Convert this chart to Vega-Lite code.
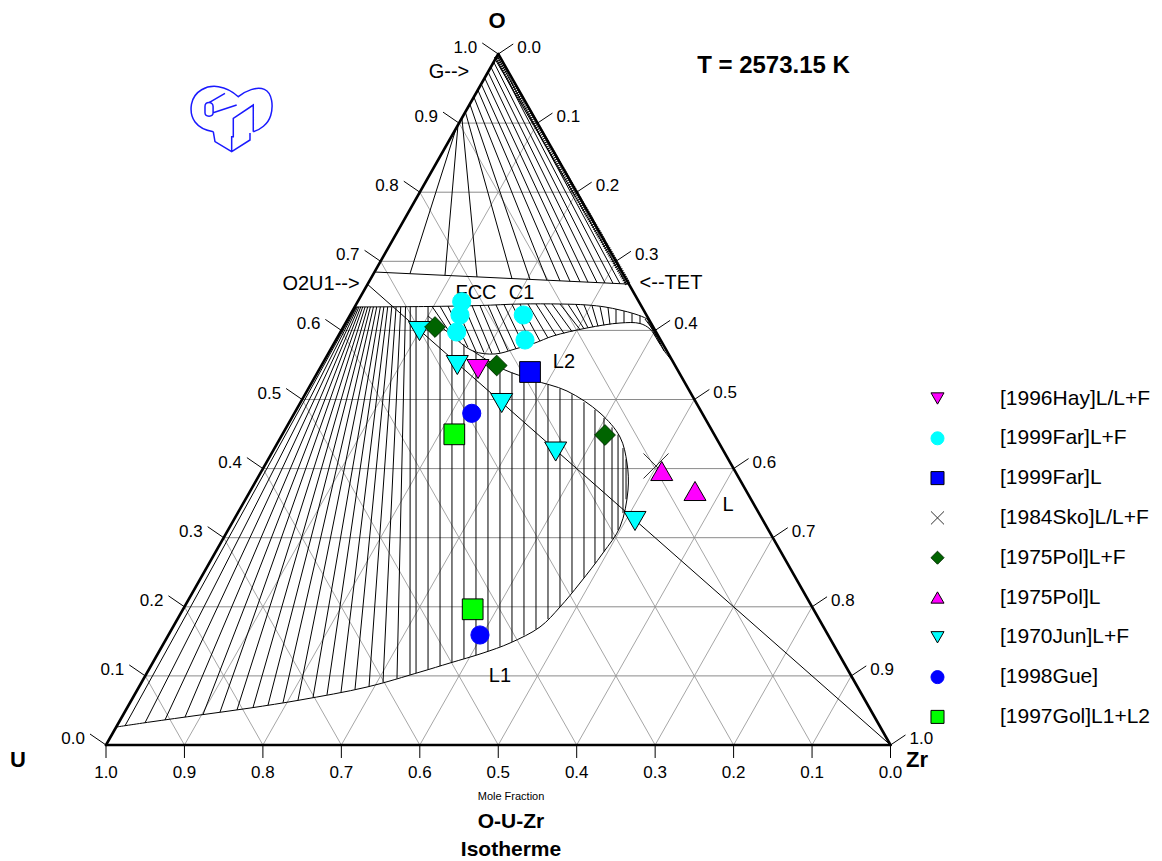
{
  "$schema": "https://vega.github.io/schema/vega-lite/v6.json",
  "width": 1162,
  "height": 861,
  "autosize": {"type": "none"},
  "padding": 0,
  "background": "#ffffff",
  "config": {
    "view": {"stroke": null},
    "text": {"font": "Liberation Sans", "color": "#000000"},
    "legend": {"orient": "none", "legendX": 927, "legendY": 388, "padding": 0, "symbolSize": 170, "symbolStrokeWidth": 1, "labelFont": "Liberation Sans", "labelFontSize": 21, "labelColor": "#000000", "labelOffset": 52, "rowPadding": 17.8, "labelLimit": 300}
  },
  "datasets": {
    "gridH": [
      {"x": 0.05, "o": 0.1, "x2": 0.95, "o2": 0.1},
      {"x": 0.1, "o": 0.2, "x2": 0.9, "o2": 0.2},
      {"x": 0.15, "o": 0.3, "x2": 0.85, "o2": 0.3},
      {"x": 0.2, "o": 0.4, "x2": 0.8, "o2": 0.4},
      {"x": 0.25, "o": 0.5, "x2": 0.75, "o2": 0.5},
      {"x": 0.3, "o": 0.6, "x2": 0.7, "o2": 0.6},
      {"x": 0.35, "o": 0.7, "x2": 0.65, "o2": 0.7},
      {"x": 0.4, "o": 0.8, "x2": 0.6, "o2": 0.8},
      {"x": 0.45, "o": 0.9, "x2": 0.55, "o2": 0.9}
    ],
    "gridD": [
      {"x": 0.1, "o": 0, "x2": 0.55, "o2": 0.9},
      {"x": 0.2, "o": 0, "x2": 0.6, "o2": 0.8},
      {"x": 0.3, "o": 0, "x2": 0.65, "o2": 0.7},
      {"x": 0.4, "o": 0, "x2": 0.7, "o2": 0.6},
      {"x": 0.5, "o": 0, "x2": 0.75, "o2": 0.5},
      {"x": 0.6, "o": 0, "x2": 0.8, "o2": 0.4},
      {"x": 0.7, "o": 0, "x2": 0.85, "o2": 0.3},
      {"x": 0.8, "o": 0, "x2": 0.9, "o2": 0.2},
      {"x": 0.9, "o": 0, "x2": 0.95, "o2": 0.1},
      {"x": 0.1, "o": 0, "x2": 0.05, "o2": 0.1},
      {"x": 0.2, "o": 0, "x2": 0.1, "o2": 0.2},
      {"x": 0.3, "o": 0, "x2": 0.15, "o2": 0.3},
      {"x": 0.4, "o": 0, "x2": 0.2, "o2": 0.4},
      {"x": 0.5, "o": 0, "x2": 0.25, "o2": 0.5},
      {"x": 0.6, "o": 0, "x2": 0.3, "o2": 0.6},
      {"x": 0.7, "o": 0, "x2": 0.35, "o2": 0.7},
      {"x": 0.8, "o": 0, "x2": 0.4, "o2": 0.8},
      {"x": 0.9, "o": 0, "x2": 0.45, "o2": 0.9}
    ],
    "frame": [
      {"x": 0, "o": 0, "x2": 1, "o2": 0},
      {"x": 1, "o": 0, "x2": 0.5, "o2": 1},
      {"x": 0.5, "o": 1, "x2": 0, "o2": 0}
    ],
    "ticksL": [
      {"x": 0, "o": 0, "x2": -0.0204, "o2": 0.0159, "label": "0.0"},
      {"x": 0.05, "o": 0.1, "x2": 0.0296, "o2": 0.1159, "label": "0.1"},
      {"x": 0.1, "o": 0.2, "x2": 0.0796, "o2": 0.2159, "label": "0.2"},
      {"x": 0.15, "o": 0.3, "x2": 0.1296, "o2": 0.3159, "label": "0.3"},
      {"x": 0.2, "o": 0.4, "x2": 0.1796, "o2": 0.4159, "label": "0.4"},
      {"x": 0.25, "o": 0.5, "x2": 0.2296, "o2": 0.5159, "label": "0.5"},
      {"x": 0.3, "o": 0.6, "x2": 0.2796, "o2": 0.6159, "label": "0.6"},
      {"x": 0.35, "o": 0.7, "x2": 0.3296, "o2": 0.7159, "label": "0.7"},
      {"x": 0.4, "o": 0.8, "x2": 0.3796, "o2": 0.8159, "label": "0.8"},
      {"x": 0.45, "o": 0.9, "x2": 0.4296, "o2": 0.9159, "label": "0.9"},
      {"x": 0.5, "o": 1, "x2": 0.4796, "o2": 1.0159, "label": "1.0"}
    ],
    "ticksR": [
      {"x": 0.5, "o": 1, "x2": 0.5191, "o2": 1.0145, "label": "0.0"},
      {"x": 0.55, "o": 0.9, "x2": 0.5691, "o2": 0.9145, "label": "0.1"},
      {"x": 0.6, "o": 0.8, "x2": 0.6191, "o2": 0.8145, "label": "0.2"},
      {"x": 0.65, "o": 0.7, "x2": 0.6691, "o2": 0.7145, "label": "0.3"},
      {"x": 0.7, "o": 0.6, "x2": 0.7191, "o2": 0.6145, "label": "0.4"},
      {"x": 0.75, "o": 0.5, "x2": 0.7691, "o2": 0.5145, "label": "0.5"},
      {"x": 0.8, "o": 0.4, "x2": 0.8191, "o2": 0.4145, "label": "0.6"},
      {"x": 0.85, "o": 0.3, "x2": 0.8691, "o2": 0.3145, "label": "0.7"},
      {"x": 0.9, "o": 0.2, "x2": 0.9191, "o2": 0.2145, "label": "0.8"},
      {"x": 0.95, "o": 0.1, "x2": 0.9691, "o2": 0.1145, "label": "0.9"},
      {"x": 1, "o": 0, "x2": 1.0191, "o2": 0.0145, "label": "1.0"}
    ],
    "ticksB": [
      {"x": 0, "o": 0, "x2": 0, "o2": -0.0188, "label": "1.0"},
      {"x": 0.1, "o": 0, "x2": 0.1, "o2": -0.0188, "label": "0.9"},
      {"x": 0.2, "o": 0, "x2": 0.2, "o2": -0.0188, "label": "0.8"},
      {"x": 0.3, "o": 0, "x2": 0.3, "o2": -0.0188, "label": "0.7"},
      {"x": 0.4, "o": 0, "x2": 0.4, "o2": -0.0188, "label": "0.6"},
      {"x": 0.5, "o": 0, "x2": 0.5, "o2": -0.0188, "label": "0.5"},
      {"x": 0.6, "o": 0, "x2": 0.6, "o2": -0.0188, "label": "0.4"},
      {"x": 0.7, "o": 0, "x2": 0.7, "o2": -0.0188, "label": "0.3"},
      {"x": 0.8, "o": 0, "x2": 0.8, "o2": -0.0188, "label": "0.2"},
      {"x": 0.9, "o": 0, "x2": 0.9, "o2": -0.0188, "label": "0.1"},
      {"x": 1, "o": 0, "x2": 1, "o2": -0.0188, "label": "0.0"}
    ],
    "segments": [
      {"x": 0.3423, "o": 0.6845, "x2": 0.6665, "o2": 0.667},
      {"x": 0.3333, "o": 0.6667, "x2": 1, "o2": 0},
      {"x": 0.4958, "o": 0.993, "x2": 0.6632, "o2": 0.6675}
    ],
    "band": [
      {"x": 0.4978, "o": 0.997, "x2": 0.665, "o2": 0.6675}
    ],
    "emblem": [
      {"x": 0.1606, "o": 0.9045}
    ],
    "ties": [
      {"set": "G+FCC", "x": 0.4465, "o": 0.8929, "x2": 0.3875, "o2": 0.6821},
      {"set": "G+FCC", "x": 0.4487, "o": 0.8973, "x2": 0.4321, "o2": 0.6797},
      {"set": "G+FCC", "x": 0.4537, "o": 0.9074, "x2": 0.4729, "o2": 0.6774},
      {"set": "G+FCC", "x": 0.4581, "o": 0.9161, "x2": 0.5175, "o2": 0.675},
      {"set": "G+FCC", "x": 0.4638, "o": 0.9276, "x2": 0.5405, "o2": 0.6738},
      {"set": "G+FCC", "x": 0.4689, "o": 0.9378, "x2": 0.5621, "o2": 0.6726},
      {"set": "G+FCC", "x": 0.474, "o": 0.9479, "x2": 0.5787, "o2": 0.6717},
      {"set": "G+FCC", "x": 0.4783, "o": 0.9566, "x2": 0.5915, "o2": 0.671},
      {"set": "G+FCC", "x": 0.4827, "o": 0.9653, "x2": 0.6042, "o2": 0.6704},
      {"set": "G+FCC", "x": 0.487, "o": 0.974, "x2": 0.6144, "o2": 0.6698},
      {"set": "G+FCC", "x": 0.4906, "o": 0.9812, "x2": 0.6259, "o2": 0.6692},
      {"set": "G+FCC", "x": 0.4942, "o": 0.9884, "x2": 0.6361, "o2": 0.6686},
      {"set": "G+FCC", "x": 0.4971, "o": 0.9942, "x2": 0.6463, "o2": 0.6681},
      {"set": "G+FCC", "x": 0.4986, "o": 0.9971, "x2": 0.6552, "o2": 0.6676},
      {"set": "F+L1", "x": 0.3187, "o": 0.634, "x2": 0.0242, "o2": 0.0278},
      {"set": "F+L1", "x": 0.3193, "o": 0.634, "x2": 0.0497, "o2": 0.0321},
      {"set": "F+L1", "x": 0.3206, "o": 0.634, "x2": 0.0752, "o2": 0.0363},
      {"set": "F+L1", "x": 0.3224, "o": 0.634, "x2": 0.1007, "o2": 0.0404},
      {"set": "F+L1", "x": 0.3247, "o": 0.634, "x2": 0.1236, "o2": 0.044},
      {"set": "F+L1", "x": 0.3272, "o": 0.634, "x2": 0.1453, "o2": 0.0475},
      {"set": "F+L1", "x": 0.3303, "o": 0.634, "x2": 0.167, "o2": 0.0509},
      {"set": "F+L1", "x": 0.3336, "o": 0.634, "x2": 0.1874, "o2": 0.0543},
      {"set": "F+L1", "x": 0.337, "o": 0.634, "x2": 0.2065, "o2": 0.0577},
      {"set": "F+L1", "x": 0.3409, "o": 0.634, "x2": 0.2256, "o2": 0.0612},
      {"set": "F+L1", "x": 0.3451, "o": 0.634, "x2": 0.2447, "o2": 0.0647},
      {"set": "F+L1", "x": 0.3497, "o": 0.634, "x2": 0.2639, "o2": 0.0687},
      {"set": "F+L1", "x": 0.3542, "o": 0.634, "x2": 0.2817, "o2": 0.0726},
      {"set": "F+L1", "x": 0.3591, "o": 0.634, "x2": 0.2996, "o2": 0.0767},
      {"set": "F+L1", "x": 0.3643, "o": 0.634, "x2": 0.3174, "o2": 0.0806},
      {"set": "F+L1", "x": 0.3698, "o": 0.634, "x2": 0.3353, "o2": 0.0848},
      {"set": "F+L1", "x": 0.3757, "o": 0.634, "x2": 0.3531, "o2": 0.0905},
      {"set": "F+L1", "x": 0.3818, "o": 0.634, "x2": 0.3709, "o2": 0.0962},
      {"set": "F+L1", "x": 0.3878, "o": 0.634, "x2": 0.3875, "o2": 0.1016},
      {"set": "L1+L2", "x": 0.3952, "o": 0.6339, "x2": 0.3952, "o2": 0.1041},
      {"set": "L1+L2", "x": 0.4105, "o": 0.6346, "x2": 0.4105, "o2": 0.1091},
      {"set": "L1+L2", "x": 0.4258, "o": 0.6067, "x2": 0.4258, "o2": 0.1143},
      {"set": "L1+L2", "x": 0.441, "o": 0.5926, "x2": 0.441, "o2": 0.1195},
      {"set": "L1+L2", "x": 0.4563, "o": 0.5799, "x2": 0.4563, "o2": 0.1247},
      {"set": "L1+L2", "x": 0.4716, "o": 0.5675, "x2": 0.4716, "o2": 0.1301},
      {"set": "L1+L2", "x": 0.4869, "o": 0.5562, "x2": 0.4869, "o2": 0.1359},
      {"set": "L1+L2", "x": 0.5022, "o": 0.5466, "x2": 0.5022, "o2": 0.1423},
      {"set": "L1+L2", "x": 0.5175, "o": 0.5391, "x2": 0.5175, "o2": 0.1492},
      {"set": "L1+L2", "x": 0.5328, "o": 0.5329, "x2": 0.5328, "o2": 0.1585},
      {"set": "L1+L2", "x": 0.5481, "o": 0.5268, "x2": 0.5481, "o2": 0.1677},
      {"set": "L1+L2", "x": 0.5634, "o": 0.5211, "x2": 0.5634, "o2": 0.1823},
      {"set": "L1+L2", "x": 0.5787, "o": 0.5156, "x2": 0.5787, "o2": 0.1997},
      {"set": "L1+L2", "x": 0.594, "o": 0.5075, "x2": 0.594, "o2": 0.2206},
      {"set": "L1+L2", "x": 0.6093, "o": 0.496, "x2": 0.6093, "o2": 0.242},
      {"set": "L1+L2", "x": 0.6233, "o": 0.4852, "x2": 0.6233, "o2": 0.2628},
      {"set": "L1+L2", "x": 0.6348, "o": 0.4735, "x2": 0.6348, "o2": 0.28},
      {"set": "L1+L2", "x": 0.645, "o": 0.4596, "x2": 0.645, "o2": 0.2978},
      {"set": "L1+L2", "x": 0.6527, "o": 0.4492, "x2": 0.6527, "o2": 0.311},
      {"set": "L1+L2", "x": 0.659, "o": 0.4297, "x2": 0.659, "o2": 0.3356},
      {"set": "L1+L2", "x": 0.6629, "o": 0.4135, "x2": 0.6629, "o2": 0.3556},
      {"set": "C1+L2", "x": 0.4156, "o": 0.6347, "x2": 0.441, "o2": 0.5926},
      {"set": "C1+L2", "x": 0.4258, "o": 0.635, "x2": 0.4512, "o2": 0.5841},
      {"set": "C1+L2", "x": 0.4359, "o": 0.6352, "x2": 0.4614, "o2": 0.5756},
      {"set": "C1+L2", "x": 0.4461, "o": 0.6355, "x2": 0.4716, "o2": 0.5696},
      {"set": "C1+L2", "x": 0.4563, "o": 0.6356, "x2": 0.4818, "o2": 0.568},
      {"set": "C1+L2", "x": 0.4665, "o": 0.636, "x2": 0.492, "o2": 0.5664},
      {"set": "C1+L2", "x": 0.4767, "o": 0.636, "x2": 0.5022, "o2": 0.5676},
      {"set": "C1+L2", "x": 0.4869, "o": 0.6365, "x2": 0.5124, "o2": 0.5705},
      {"set": "C1+L2", "x": 0.4971, "o": 0.6369, "x2": 0.5226, "o2": 0.5735},
      {"set": "C1+L2", "x": 0.5073, "o": 0.6373, "x2": 0.5328, "o2": 0.577},
      {"set": "C1+L2", "x": 0.5175, "o": 0.6378, "x2": 0.543, "o2": 0.5805},
      {"set": "C1+L2", "x": 0.5277, "o": 0.6382, "x2": 0.5532, "o2": 0.5845},
      {"set": "C1+L2", "x": 0.5379, "o": 0.6382, "x2": 0.5634, "o2": 0.5891},
      {"set": "C1+L2", "x": 0.5481, "o": 0.6382, "x2": 0.5736, "o2": 0.5929},
      {"set": "C1+L2", "x": 0.5583, "o": 0.6382, "x2": 0.5838, "o2": 0.5957},
      {"set": "C1+L2", "x": 0.5685, "o": 0.6382, "x2": 0.594, "o2": 0.5984},
      {"set": "C1+L2", "x": 0.5787, "o": 0.6382, "x2": 0.6042, "o2": 0.6012},
      {"set": "C1+L2", "x": 0.5889, "o": 0.6378, "x2": 0.6093, "o2": 0.6025},
      {"set": "C1+L2", "x": 0.5991, "o": 0.6373, "x2": 0.6144, "o2": 0.6038},
      {"set": "C1+L2", "x": 0.6093, "o": 0.6369, "x2": 0.6208, "o2": 0.6048},
      {"set": "C1+L2", "x": 0.6195, "o": 0.6359, "x2": 0.6272, "o2": 0.6059},
      {"set": "C1+L2", "x": 0.6297, "o": 0.6347, "x2": 0.6348, "o2": 0.6072},
      {"set": "C1+L2", "x": 0.6399, "o": 0.633, "x2": 0.6424, "o2": 0.6085},
      {"set": "C1+L2", "x": 0.6501, "o": 0.6307, "x2": 0.6501, "o2": 0.6099},
      {"set": "C1+L2", "x": 0.6603, "o": 0.6279, "x2": 0.6603, "o2": 0.6109},
      {"set": "C1+L2", "x": 0.6705, "o": 0.6247, "x2": 0.6705, "o2": 0.6108},
      {"set": "C1+L2", "x": 0.6807, "o": 0.6213, "x2": 0.6807, "o2": 0.61},
      {"set": "C1+L2", "x": 0.687, "o": 0.6165, "x2": 0.6985, "o2": 0.5991},
      {"set": "C1+L2", "x": 0.6905, "o": 0.6143, "x2": 0.701, "o2": 0.5905},
      {"set": "C1+L2", "x": 0.6925, "o": 0.6131, "x2": 0.7062, "o2": 0.5803},
      {"set": "C1+L2", "x": 0.694, "o": 0.6118, "x2": 0.7113, "o2": 0.5702}
    ],
    "curves": [
      {"c": "solidus", "i": 1, "x": 0.317, "o": 0.6339},
      {"c": "solidus", "i": 2, "x": 0.4105, "o": 0.6346},
      {"c": "solidus", "i": 3, "x": 0.4767, "o": 0.636},
      {"c": "solidus", "i": 4, "x": 0.5277, "o": 0.6382},
      {"c": "solidus", "i": 5, "x": 0.5787, "o": 0.6382},
      {"c": "solidus", "i": 6, "x": 0.6131, "o": 0.6368},
      {"c": "solidus", "i": 7, "x": 0.6361, "o": 0.6339},
      {"c": "solidus", "i": 8, "x": 0.6552, "o": 0.6295},
      {"c": "solidus", "i": 9, "x": 0.6743, "o": 0.6237},
      {"c": "solidus", "i": 10, "x": 0.6896, "o": 0.6165},
      {"c": "solidus", "i": 11, "x": 0.695, "o": 0.61},
      {"c": "L2 liquidus", "i": 1, "x": 0.4105, "o": 0.6208},
      {"c": "L2 liquidus", "i": 2, "x": 0.4385, "o": 0.5948},
      {"c": "L2 liquidus", "i": 3, "x": 0.4678, "o": 0.5702},
      {"c": "L2 liquidus", "i": 4, "x": 0.4959, "o": 0.5659},
      {"c": "L2 liquidus", "i": 5, "x": 0.5214, "o": 0.5731},
      {"c": "L2 liquidus", "i": 6, "x": 0.5468, "o": 0.5818},
      {"c": "L2 liquidus", "i": 7, "x": 0.5698, "o": 0.5919},
      {"c": "L2 liquidus", "i": 8, "x": 0.6131, "o": 0.6035},
      {"c": "L2 liquidus", "i": 9, "x": 0.6552, "o": 0.6107},
      {"c": "L2 liquidus", "i": 10, "x": 0.6807, "o": 0.61},
      {"c": "L2 liquidus", "i": 11, "x": 0.6934, "o": 0.602},
      {"c": "L2 liquidus", "i": 12, "x": 0.7036, "o": 0.5847},
      {"c": "L2 liquidus", "i": 13, "x": 0.7126, "o": 0.5687},
      {"c": "L2 liquidus", "i": 14, "x": 0.7208, "o": 0.5572},
      {"c": "gap", "i": 1, "x": 0.4678, "o": 0.5702},
      {"c": "gap", "i": 2, "x": 0.4895, "o": 0.5543},
      {"c": "gap", "i": 3, "x": 0.5086, "o": 0.5427},
      {"c": "gap", "i": 4, "x": 0.5443, "o": 0.5282},
      {"c": "gap", "i": 5, "x": 0.5876, "o": 0.5123},
      {"c": "gap", "i": 6, "x": 0.6297, "o": 0.4805},
      {"c": "gap", "i": 7, "x": 0.6552, "o": 0.4457},
      {"c": "gap", "i": 8, "x": 0.6641, "o": 0.4081},
      {"c": "gap", "i": 9, "x": 0.6654, "o": 0.369},
      {"c": "gap", "i": 10, "x": 0.6552, "o": 0.3155},
      {"c": "gap", "i": 11, "x": 0.6335, "o": 0.2779},
      {"c": "gap", "i": 12, "x": 0.6042, "o": 0.2344},
      {"c": "gap", "i": 13, "x": 0.5787, "o": 0.1997},
      {"c": "gap", "i": 14, "x": 0.5532, "o": 0.1708},
      {"c": "gap", "i": 15, "x": 0.515, "o": 0.1476},
      {"c": "gap", "i": 16, "x": 0.4806, "o": 0.1331},
      {"c": "gap", "i": 17, "x": 0.4385, "o": 0.1187},
      {"c": "gap", "i": 18, "x": 0.4003, "o": 0.1056},
      {"c": "gap", "i": 19, "x": 0.3327, "o": 0.0839},
      {"c": "gap", "i": 20, "x": 0.2473, "o": 0.0651},
      {"c": "gap", "i": 21, "x": 0.1836, "o": 0.0535},
      {"c": "gap", "i": 22, "x": 0.1198, "o": 0.0434},
      {"c": "gap", "i": 23, "x": 0.0561, "o": 0.0333},
      {"c": "gap", "i": 24, "x": 0.013, "o": 0.026}
    ],
    "points": [
      {"series": "[1984Sko]L/L+F", "x": 0.7011, "o": 0.4038},
      {"series": "[1996Hay]L/L+F", "x": 0.4742, "o": 0.5441},
      {"series": "[1999Far]L+F", "x": 0.4534, "o": 0.6415},
      {"series": "[1999Far]L+F", "x": 0.4512, "o": 0.6223},
      {"series": "[1999Far]L+F", "x": 0.447, "o": 0.5977},
      {"series": "[1999Far]L+F", "x": 0.5319, "o": 0.6223},
      {"series": "[1999Far]L+F", "x": 0.5341, "o": 0.5861},
      {"series": "[1999Far]L", "x": 0.5405, "o": 0.5398},
      {"series": "[1975Pol]L+F", "x": 0.4194, "o": 0.6049},
      {"series": "[1975Pol]L+F", "x": 0.498, "o": 0.5492},
      {"series": "[1975Pol]L+F", "x": 0.6361, "o": 0.4486},
      {"series": "[1975Pol]L", "x": 0.7084, "o": 0.3965},
      {"series": "[1975Pol]L", "x": 0.7508, "o": 0.3676},
      {"series": "[1970Jun]L+F", "x": 0.3996, "o": 0.5991},
      {"series": "[1970Jun]L+F", "x": 0.4478, "o": 0.5499},
      {"series": "[1970Jun]L+F", "x": 0.5044, "o": 0.4949},
      {"series": "[1970Jun]L+F", "x": 0.5732, "o": 0.4247},
      {"series": "[1970Jun]L+F", "x": 0.6743, "o": 0.3242},
      {"series": "[1998Gue]", "x": 0.4662, "o": 0.48},
      {"series": "[1998Gue]", "x": 0.4767, "o": 0.1592},
      {"series": "[1997Gol]L1+L2", "x": 0.444, "o": 0.4496},
      {"series": "[1997Gol]L1+L2", "x": 0.4674, "o": 0.1964}
    ],
    "texts": [
      {"role": "head", "text": "O", "x": 0.4984, "o": 1.0481},
      {"role": "head", "text": "U", "x": -0.1122, "o": -0.0217},
      {"role": "head", "text": "Zr", "x": 1.0338, "o": -0.0217},
      {"role": "temp", "text": "T = 2573.15 K", "x": 0.8509, "o": 0.9827},
      {"role": "axis", "text": "Mole Fraction", "x": 0.5163, "o": -0.0753},
      {"role": "title", "text": "O-U-Zr", "x": 0.5163, "o": -0.1114},
      {"role": "title", "text": "Isotherme", "x": 0.5163, "o": -0.152},
      {"role": "phase", "text": "G-->", "x": 0.4372, "o": 0.974},
      {"role": "phase", "text": "O2U1-->", "x": 0.2741, "o": 0.6672},
      {"role": "phase", "text": "<--TET", "x": 0.7202, "o": 0.6686},
      {"role": "phase", "text": "FCC", "x": 0.4716, "o": 0.6541},
      {"role": "phase", "text": "C1", "x": 0.5296, "o": 0.6541},
      {"role": "phase", "text": "L2", "x": 0.5838, "o": 0.5543},
      {"role": "phase", "text": "L", "x": 0.7929, "o": 0.3473},
      {"role": "phase", "text": "L1", "x": 0.5022, "o": 0.0999}
    ]
  },
  "encoding": {
    "x": {"field": "x", "type": "quantitative", "scale": {"domain": [-0.13512, 1.34608], "nice": false, "zero": false}, "axis": null},
    "y": {"field": "o", "type": "quantitative", "scale": {"domain": [-0.16787, 1.07815], "nice": false, "zero": false}, "axis": null}
  },
  "layer": [
    {"data": {"name": "gridD"}, "mark": {"type": "rule", "color": "#a6a6a6", "strokeWidth": 1}, "encoding": {"x2": {"field": "x2"}, "y2": {"field": "o2"}}},
    {"data": {"name": "gridH"}, "mark": {"type": "rule", "color": "#8a8a8a", "strokeWidth": 1}, "encoding": {"x2": {"field": "x2"}, "y2": {"field": "o2"}}},
    {"data": {"name": "ties"}, "mark": {"type": "rule", "color": "#000000", "strokeWidth": 1}, "encoding": {"x2": {"field": "x2"}, "y2": {"field": "o2"}}},
    {"data": {"name": "curves"}, "mark": {"type": "line", "color": "#000000", "strokeWidth": 1, "interpolate": "catmull-rom"}, "encoding": {"detail": {"field": "c", "type": "nominal"}, "order": {"field": "i", "type": "quantitative"}}},
    {"data": {"name": "segments"}, "mark": {"type": "rule", "color": "#000000", "strokeWidth": 1}, "encoding": {"x2": {"field": "x2"}, "y2": {"field": "o2"}}},
    {"data": {"name": "band"}, "mark": {"type": "rule", "color": "#000000", "strokeWidth": 6, "strokeDash": [1, 1.2]}, "encoding": {"x2": {"field": "x2"}, "y2": {"field": "o2"}}},
    {"data": {"name": "frame"}, "mark": {"type": "rule", "color": "#000000", "strokeWidth": 2.6, "strokeCap": "round"}, "encoding": {"x2": {"field": "x2"}, "y2": {"field": "o2"}}},
    {"data": {"name": "ticksL"}, "mark": {"type": "rule", "color": "#000000", "strokeWidth": 1}, "encoding": {"x2": {"field": "x2"}, "y2": {"field": "o2"}}},
    {"data": {"name": "ticksR"}, "mark": {"type": "rule", "color": "#000000", "strokeWidth": 1}, "encoding": {"x2": {"field": "x2"}, "y2": {"field": "o2"}}},
    {"data": {"name": "ticksB"}, "mark": {"type": "rule", "color": "#000000", "strokeWidth": 1}, "encoding": {"x2": {"field": "x2"}, "y2": {"field": "o2"}}},
    {"data": {"name": "ticksL"}, "mark": {"type": "text", "align": "right", "baseline": "middle", "dx": -5, "dy": 5, "fontSize": 17}, "encoding": {"x": {"field": "x2", "type": "quantitative"}, "y": {"field": "o2", "type": "quantitative"}, "text": {"field": "label"}}},
    {"data": {"name": "ticksR"}, "mark": {"type": "text", "align": "left", "baseline": "middle", "dx": 4, "dy": 4, "fontSize": 17}, "encoding": {"x": {"field": "x2", "type": "quantitative"}, "y": {"field": "o2", "type": "quantitative"}, "text": {"field": "label"}}},
    {"data": {"name": "ticksB"}, "mark": {"type": "text", "align": "center", "baseline": "middle", "dy": 15, "fontSize": 17}, "encoding": {"x": {"field": "x2", "type": "quantitative"}, "y": {"field": "o2", "type": "quantitative"}, "text": {"field": "label"}}},
    {"data": {"name": "texts"}, "transform": [{"filter": "datum.role === 'head'"}], "mark": {"type": "text", "align": "center", "baseline": "middle", "fontSize": 22, "fontWeight": "bold"}, "encoding": {"text": {"field": "text"}}},
    {"data": {"name": "texts"}, "transform": [{"filter": "datum.role === 'temp'"}], "mark": {"type": "text", "align": "center", "baseline": "middle", "fontSize": 24, "fontWeight": "bold"}, "encoding": {"text": {"field": "text"}}},
    {"data": {"name": "texts"}, "transform": [{"filter": "datum.role === 'axis'"}], "mark": {"type": "text", "align": "center", "baseline": "middle", "fontSize": 11}, "encoding": {"text": {"field": "text"}}},
    {"data": {"name": "texts"}, "transform": [{"filter": "datum.role === 'title'"}], "mark": {"type": "text", "align": "center", "baseline": "middle", "fontSize": 21, "fontWeight": "bold"}, "encoding": {"text": {"field": "text"}}},
    {"data": {"name": "texts"}, "transform": [{"filter": "datum.role === 'phase'"}], "mark": {"type": "text", "align": "center", "baseline": "middle", "fontSize": 20}, "encoding": {"text": {"field": "text"}}},
    {"data": {"name": "emblem"}, "mark": {"type": "point", "filled": false, "size": 8100, "strokeWidth": 1.5, "color": "#1a1aff", "opacity": 1,
      "shape": "M-0.416,0.26C-0.8,0.2 -0.95,-0.05 -0.9,-0.35C-0.85,-0.65 -0.55,-0.78 -0.3,-0.74C-0.1,-0.71 0.05,-0.6 0.14,-0.518C0.3,-0.65 0.55,-0.75 0.72,-0.68C0.9,-0.6 0.92,-0.3 0.86,-0.1C0.8,0.1 0.62,0.22 0.473,0.26M-0.416,0.26L-0.378,0.481L-0.007,0.704L0.4,0.444L0.4,0.29M-0.007,0.704L-0.007,0.37L0.029,0.37L0.029,-0.037L0.473,-0.333L0.473,0.26M-0.6,-0.3C-0.6,-0.42 -0.42,-0.42 -0.42,-0.3L-0.42,-0.16C-0.42,-0.06 -0.6,-0.06 -0.6,-0.16ZM-0.5,-0.39L-0.156,-0.593M-0.42,-0.16L0.104,-0.333"}},
    {
      "data": {"name": "points"},
      "encoding": {
        "shape": {
          "field": "series", "type": "nominal",
          "scale": {"domain": ["[1996Hay]L/L+F", "[1999Far]L+F", "[1999Far]L", "[1984Sko]L/L+F", "[1975Pol]L+F", "[1975Pol]L", "[1970Jun]L+F", "[1998Gue]", "[1997Gol]L1+L2"],
                    "range": ["triangle-down", "circle", "square", "M-1,-1L1,1M-1,1L1,-1", "diamond", "triangle-up", "triangle-down", "circle", "square"]},
          "legend": {"title": null}
        },
        "fill": {
          "field": "series", "type": "nominal",
          "scale": {"domain": ["[1996Hay]L/L+F", "[1999Far]L+F", "[1999Far]L", "[1984Sko]L/L+F", "[1975Pol]L+F", "[1975Pol]L", "[1970Jun]L+F", "[1998Gue]", "[1997Gol]L1+L2"],
                    "range": ["#ff00ff", "#00ffff", "#0000ff", "#404040", "#006400", "#ff00ff", "#00ffff", "#0000ff", "#00ff00"]},
          "legend": {"title": null}
        },
        "stroke": {
          "field": "series", "type": "nominal",
          "scale": {"domain": ["[1996Hay]L/L+F", "[1999Far]L+F", "[1999Far]L", "[1984Sko]L/L+F", "[1975Pol]L+F", "[1975Pol]L", "[1970Jun]L+F", "[1998Gue]", "[1997Gol]L1+L2"],
                    "range": ["#000000", "#00ffff", "#000000", "#303030", "#003000", "#000000", "#000000", "#0000ff", "#000000"]},
          "legend": {"title": null}
        }
      },
      "layer": [
        {"transform": [{"filter": {"field": "series", "equal": "[1984Sko]L/L+F"}}], "mark": {"type": "point", "filled": true, "size": 625, "strokeWidth": 1, "opacity": 1}},
        {"transform": [{"filter": {"field": "series", "oneOf": ["[1996Hay]L/L+F", "[1975Pol]L", "[1970Jun]L+F"]}}], "mark": {"type": "point", "filled": true, "size": 484, "strokeWidth": 1, "opacity": 1}},
        {"transform": [{"filter": {"field": "series", "oneOf": ["[1999Far]L+F", "[1998Gue]"]}}], "mark": {"type": "point", "filled": true, "size": 330, "strokeWidth": 1, "opacity": 1}},
        {"transform": [{"filter": {"field": "series", "oneOf": ["[1999Far]L", "[1997Gol]L1+L2", "[1975Pol]L+F"]}}], "mark": {"type": "point", "filled": true, "size": 430, "strokeWidth": 1, "opacity": 1}}
      ]
    }
  ]
}
